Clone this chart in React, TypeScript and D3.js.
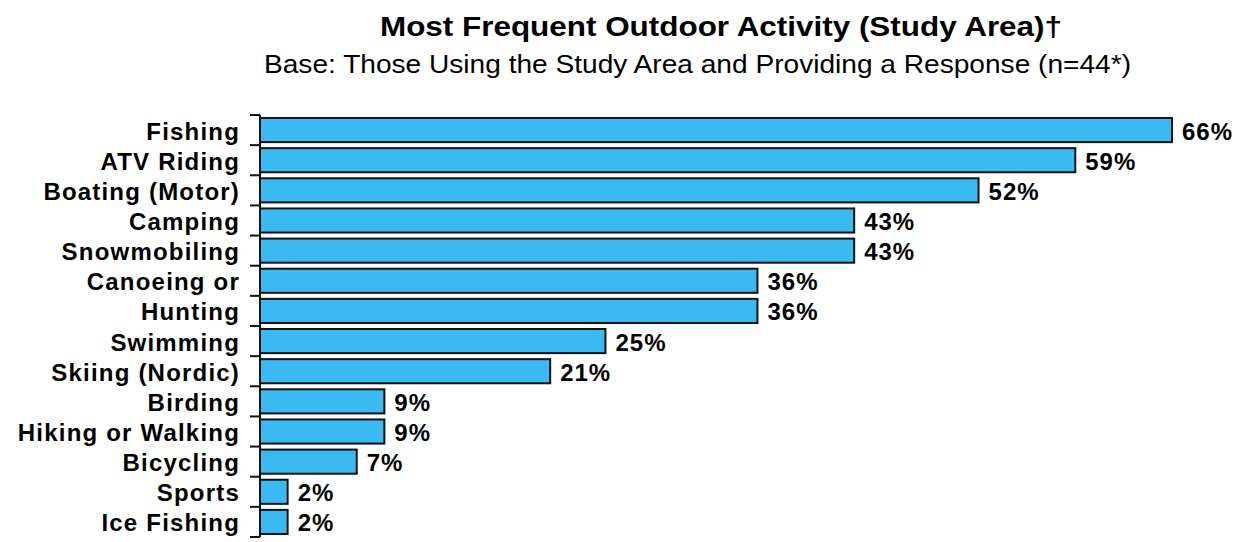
import React, { useRef, useEffect } from 'react'
import { select, scaleLinear, scaleBand } from 'd3'

const activities = [
  'Fishing',
  'ATV Riding',
  'Boating (Motor)',
  'Camping',
  'Snowmobiling',
  'Canoeing or',
  'Hunting',
  'Swimming',
  'Skiing (Nordic)',
  'Birding',
  'Hiking or Walking',
  'Bicycling',
  'Sports',
  'Ice Fishing',
]
const percents = [66, 59, 52, 43, 43, 36, 36, 25, 21, 9, 9, 7, 2, 2]

const title = 'Most Frequent Outdoor Activity (Study Area)\u2020'
const subtitle = 'Base: Those Using the Study Area and Providing a Response (n=44*)'

const font = 'Liberation Sans, Arial, sans-serif'

function App() {
  const ref = useRef<SVGSVGElement>(null)
  const width = 1249
  const height = 542

  useEffect(() => {
    const svg = select(ref.current)
    svg.selectAll('*').remove()

    const left = 260
    const top = 115
    const bottom = 537

    const x = scaleLinear().domain([0, 66]).range([left, 1172])
    const y = scaleBand().domain(activities).range([top, bottom]).paddingInner(0.2).paddingOuter(0.1)
    const step = y.step()

    svg.append('text')
      .attr('x', 380)
      .attr('y', 35.5)
      .attr('textLength', 682)
      .attr('lengthAdjust', 'spacingAndGlyphs')
      .style('font-family', font)
      .style('font-weight', 'bold')
      .style('font-size', '28px')
      .text(title)

    svg.append('text')
      .attr('x', 264)
      .attr('y', 73)
      .attr('textLength', 867)
      .attr('lengthAdjust', 'spacingAndGlyphs')
      .style('font-family', font)
      .style('font-size', '25px')
      .text(subtitle)

    // bars
    activities.forEach((a, i) => {
      const cy = y(a)! + y.bandwidth() / 2
      svg.append('rect')
        .attr('x', x(0))
        .attr('y', y(a)!)
        .attr('width', x(percents[i]) - x(0))
        .attr('height', y.bandwidth())
        .attr('fill', '#3BB9F1')
        .attr('stroke', '#111')
        .attr('stroke-width', 2)

      svg.append('text')
        .attr('x', x(percents[i]) + 10)
        .attr('y', cy + 9.5)
        .style('font-family', font)
        .style('font-weight', 'bold')
        .style('font-size', '24px')
        .style('letter-spacing', '1px')
        .text(percents[i] + '%')

      svg.append('text')
        .attr('x', 240)
        .attr('y', cy + 9.5)
        .attr('text-anchor', 'end')
        .style('font-family', font)
        .style('font-weight', 'bold')
        .style('font-size', '24px')
        .style('letter-spacing', '1.2px')
        .text(a)
    })

    // axis line + ticks
    svg.append('line')
      .attr('x1', left).attr('x2', left)
      .attr('y1', top).attr('y2', bottom)
      .attr('stroke', '#111').attr('stroke-width', 2)

    for (let i = 0; i <= activities.length; i++) {
      svg.append('line')
        .attr('x1', left - 10).attr('x2', left)
        .attr('y1', top + i * step).attr('y2', top + i * step)
        .attr('stroke', '#111').attr('stroke-width', 2)
    }
  }, [])

  return (
    <svg ref={ref} width={width} height={height} style={{ display: 'block', position: 'absolute', left: 0, top: 0 }} />
  )
}

export default App
